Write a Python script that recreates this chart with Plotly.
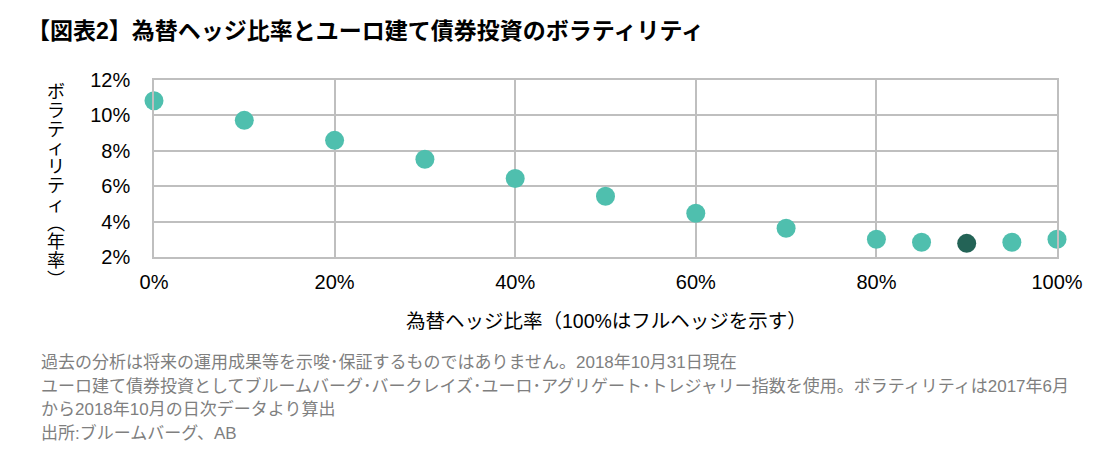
import plotly.graph_objects as go

hedge_ratio = [0, 10, 20, 30, 40, 50, 60, 70, 80, 85, 90, 95, 100]
volatility = [10.83, 9.72, 8.59, 7.52, 6.44, 5.43, 4.47, 3.62, 3.0, 2.83, 2.77, 2.83, 3.0]
highlight_index = 10

x_ticks = [0, 20, 40, 60, 80, 100]
x_tick_labels = ["0%", "20%", "40%", "60%", "80%", "100%"]
y_ticks = [2, 4, 6, 8, 10, 12]
y_tick_labels = ["2%", "4%", "6%", "8%", "10%", "12%"]

title_text = "【図表2】為替ヘッジ比率とユーロ建て債券投資のボラティリティ"
x_title = "為替ヘッジ比率（100%はフルヘッジを示す）"
y_title_chars = ["ボ", "ラ", "テ", "ィ", "リ", "テ", "ィ", "︵", "年", "率", "︶"]
footnotes = [
    "過去の分析は将来の運用成果等を示唆･保証するものではありません。2018年10月31日現在",
    "ユーロ建て債券投資としてブルームバーグ･バークレイズ･ユーロ･アグリゲート･トレジャリー指数を使用。ボラティリティは2017年6月",
    "から2018年10月の日次データより算出",
    "出所:ブルームバーグ、AB",
]

TEAL = "#4fbfae"
DARK = "#236356"
FONT = "Liberation Sans, Arial, Noto Sans CJK JP, sans-serif"
JFONT = "Liberation Sans, Noto Sans CJK JP, sans-serif"

colors = [DARK if i == highlight_index else TEAL for i in range(len(hedge_ratio))]

# page places the figure at an 8px body offset; figure is sized to fit
FIG_W, FIG_H = 1100, 462
L, R, T, B = 146, 51, 72, 213
PW = FIG_W - L - R
PH = FIG_H - T - B


def to_paper(X, Y):
    # page pixel coordinates -> paper coordinates
    return (X - 8 - L) / PW, (FIG_H - B - (Y - 8)) / PH


fig = go.Figure()
fig.add_trace(go.Scatter(
    x=hedge_ratio, y=volatility, mode="markers",
    marker=dict(size=19, color=colors, line=dict(width=0)),
    cliponaxis=False, showlegend=False, hoverinfo="x+y",
))

fig.update_layout(
    width=FIG_W, height=FIG_H,
    margin=dict(l=L, r=R, t=T, b=B),
    paper_bgcolor="white", plot_bgcolor="white",
    font=dict(family=FONT, color="#000000", size=17),
    showlegend=False,
)
fig.update_xaxes(
    range=[0, 100], tickvals=x_ticks, ticktext=x_tick_labels,
    showgrid=True, gridcolor="#bfbfbf", gridwidth=1.5,
    showline=True, linecolor="#bfbfbf", linewidth=1.5, mirror=True,
    zeroline=False, ticks="", ticklabelstandoff=6,
    tickfont=dict(size=20, family=FONT),
)
fig.update_yaxes(
    range=[2, 12], tickvals=y_ticks, ticktext=y_tick_labels,
    showgrid=True, gridcolor="#bfbfbf", gridwidth=1.5,
    showline=True, linecolor="#bfbfbf", linewidth=1.5, mirror=True,
    zeroline=False, ticks="", ticklabelstandoff=18,
    tickfont=dict(size=20, family=FONT),
)

annotations = []


def add_text(text, X, Y, size, color="#000", xanchor="left"):
    px, py = to_paper(X, Y)
    annotations.append(dict(text=text, x=px, y=py, xref="paper", yref="paper",
                            showarrow=False, xanchor=xanchor, yanchor="middle",
                            font=dict(size=size, family=JFONT, color=color)))


add_text("<b>" + title_text + "</b>", 25, 31, 23)
add_text(x_title, 606, 321, 19.5, xanchor="center")
for i, ch in enumerate(y_title_chars):
    add_text(ch, 56, 92 + 18.8 * i, 18, xanchor="center")
for txt, fy in zip(footnotes, [362, 386, 409, 433]):
    add_text(txt, 39, fy, 17, color="#7f7f7f")

fig.update_layout(annotations=annotations)

fig.write_html("out.html")
